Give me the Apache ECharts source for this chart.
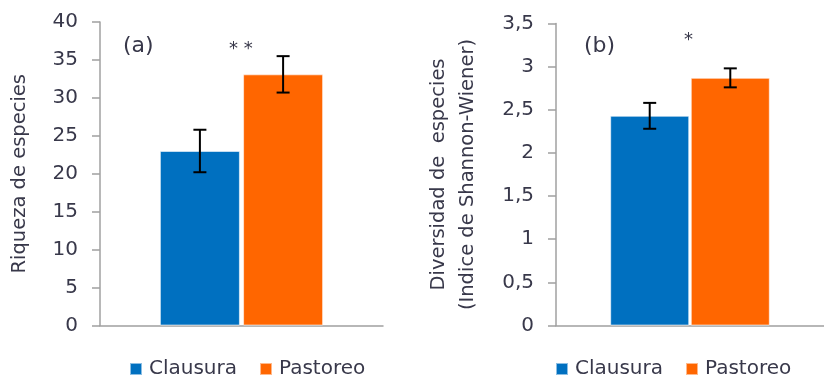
<!DOCTYPE html>
<html>
<head>
<meta charset="utf-8">
<script src="https://cdn.jsdelivr.net/npm/echarts@6/dist/echarts.min.js"></script>
<style>
  html, body { margin: 0; padding: 0; background: #fff; }
  #chart { width: 824px; height: 379px; }
</style>
</head>
<body>
<div id="chart"></div>
<script>
// Treatments shown in both panels
const groups = ['Clausura', 'Pastoreo'];
const groupColors = ['#0070C0', '#FF6600'];

// Panel (a): species richness, mean and error
const richnessMean = [23.0, 33.1];
const richnessErr = [2.8, 2.4];

// Panel (b): Shannon-Wiener diversity, mean and error
const diversityMean = [2.43, 2.87];
const diversityErr = [0.15, 0.11];

// Significance marks and panel tags
const panelTags = ['(a)', '(b)'];
const signifMarks = ['* *', '*'];

const FONT = 'DejaVu Sans';
const TEXT = '#38384a';
const AXIS = '#a0a0a0';

const panels = [
  { mean: richnessMean, err: richnessErr, max: 40, interval: 5, barWidth: 80, gapPct: 4,
    name: 'Riqueza de especies', nameGap: 66, fmt: v => String(v) },
  { mean: diversityMean, err: diversityErr, max: 3.5, interval: 0.5, barWidth: 79, gapPct: 2,
    name: 'Diversidad de  especies\n(Indice de Shannon-Wiener)', nameGap: 74,
    fmt: v => String(v).replace('.', ',') }
];

const chart = echarts.init(document.getElementById('chart'), null, { renderer: 'canvas' });

const xAxes = [], yAxes = [], series = [];
panels.forEach((p, pi) => {
  xAxes.push({
    type: 'category', gridIndex: pi, data: [''],
    axisLine: { lineStyle: { color: AXIS, width: 1.5 } },
    axisTick: { show: false }, axisLabel: { show: false }
  });
  yAxes.push({
    type: 'value', gridIndex: pi, min: 0, max: p.max, interval: p.interval,
    name: p.name, nameLocation: 'middle', nameGap: p.nameGap, nameRotate: 90,
    nameTextStyle: { fontFamily: FONT, fontSize: 19.5, color: TEXT, lineHeight: 29 },
    axisLine: { show: true, lineStyle: { color: AXIS, width: 1.5 } },
    axisTick: { show: true, length: 8, lineStyle: { color: AXIS, width: 1.5 } },
    axisLabel: { fontFamily: FONT, fontSize: 20, color: TEXT, margin: 22, formatter: p.fmt },
    splitLine: { show: false }
  });
  const gapPx = p.barWidth * p.gapPct / 100;
  groups.forEach((g, gi) => {
    series.push({
      type: 'bar', name: g, xAxisIndex: pi, yAxisIndex: pi,
      barWidth: p.barWidth, barGap: p.gapPct + '%',
      itemStyle: { color: groupColors[gi], borderColor: 'rgba(255,255,255,0.55)', borderWidth: 1 },
      data: [p.mean[gi]], z: 2
    });
    // offset of this bar's centre from the category centre
    const offset = (gi - 0.5) * (p.barWidth + gapPx);
    series.push({
      type: 'custom', name: g + ' error', xAxisIndex: pi, yAxisIndex: pi, z: 5,
      silent: true, legendHoverLink: false,
      encode: { x: 0, y: [1, 2] },
      data: [[0, p.mean[gi] - p.err[gi], p.mean[gi] + p.err[gi]]],
      renderItem: (params, api) => {
        const lo = api.coord([api.value(0), api.value(1)]);
        const hi = api.coord([api.value(0), api.value(2)]);
        const x = lo[0] + offset;
        const cap = 6.5;
        const style = { stroke: '#000', lineWidth: 2 };
        return {
          type: 'group',
          children: [
            { type: 'line', shape: { x1: x, y1: lo[1], x2: x, y2: hi[1] }, style },
            { type: 'line', shape: { x1: x - cap, y1: lo[1], x2: x + cap, y2: lo[1] }, style },
            { type: 'line', shape: { x1: x - cap, y1: hi[1], x2: x + cap, y2: hi[1] }, style }
          ]
        };
      }
    });
  });
});

const legendCommon = {
  data: groups, icon: 'rect', itemWidth: 12, itemHeight: 12, itemGap: 22,
  padding: 0, top: 359, selectedMode: false,
  textStyle: { fontFamily: FONT, fontSize: 20, color: TEXT, padding: [0, 0, 0, 2] }
};

chart.setOption({
  animation: false,
  grid: [
    { left: 100, top: 22, width: 283, height: 303.5 },
    { left: 556, top: 23.5, width: 278, height: 302 }
  ],
  xAxis: xAxes,
  yAxis: yAxes,
  legend: [
    Object.assign({ left: 129 }, legendCommon),
    Object.assign({ left: 555 }, legendCommon)
  ],
  graphic: [
    { type: 'text', left: 123, top: 35, style: { text: panelTags[0], font: '22px "DejaVu Sans"', fill: TEXT } },
    { type: 'text', left: 584, top: 35, style: { text: panelTags[1], font: '22px "DejaVu Sans"', fill: TEXT } },
    { type: 'text', left: 229, top: 40, style: { text: signifMarks[0], font: '18px "DejaVu Sans"', fill: TEXT } },
    { type: 'text', left: 684, top: 31, style: { text: signifMarks[1], font: '18px "DejaVu Sans"', fill: TEXT } }
  ],
  series
});
</script>
</body>
</html>
